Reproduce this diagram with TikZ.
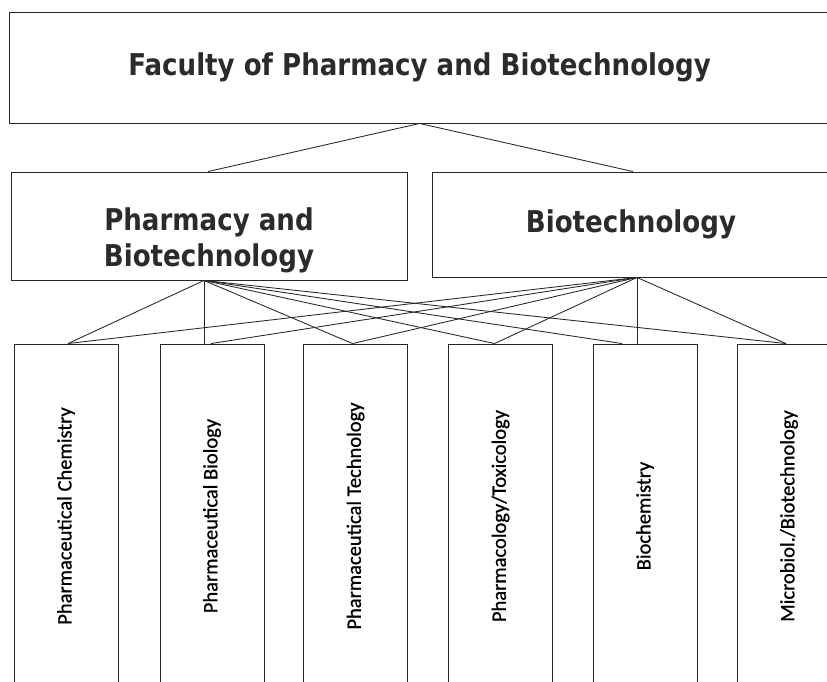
\documentclass[tikz,border=0pt]{standalone}
\usepackage{fontspec}
\newfontfamily\headfont[FakeStretch=0.87]{DejaVu Sans}
\newfontfamily\labfont[FakeBold=0.8]{Carlito}
\definecolor{headgray}{HTML}{2B2B2B}
\begin{document}
\begin{tikzpicture}[x=1pt,y=-1pt,
  box/.style={draw=black!85, line width=0.9pt, rectangle, inner sep=0pt},
  headtext/.style={font=\headfont\bfseries\fontsize{30}{36}\selectfont, text=headgray, align=center},
  leafbox/.style={box, minimum width=104pt, minimum height=344pt, font=\labfont\fontsize{20.5}{24}\selectfont},
  link/.style={draw=black!85, line width=0.85pt}]
\useasboundingbox (0,0) rectangle (827,682);
\clip (0,0) rectangle (827,682);
\fill[white] (0,0) rectangle (827,682);
% top
\node[box, headtext, minimum width=821pt, minimum height=111pt] (top) at (419.5,67.5) {Faculty of Pharmacy and Biotechnology};
% middle
\node[box, minimum width=396pt, minimum height=108pt] (lm) at (209,226) {};
\node[headtext, inner sep=0pt] (lmtext) at (209,240) {Pharmacy and\\Biotechnology};
\node[box, headtext, minimum width=398pt, minimum height=105pt] (rm) at (631,224.5) {Biotechnology};
% leaves
\node[leafbox] (b1) at (66,516) {\rotatebox{90}{Pharmaceutical Chemistry}};
\node[leafbox] (b2) at (212,516) {\rotatebox{90}{Pharmaceutical Biology}};
\node[leafbox] (b3) at (355.5,516) {\rotatebox{90}{Pharmaceutical Technology}};
\node[leafbox] (b4) at (500.5,516) {\rotatebox{90}{Pharmacology/Toxicology}};
\node[leafbox] (b5) at (645,516) {\rotatebox{90}{Biochemistry}};
\node[leafbox] (b6) at (789,516) {\rotatebox{90}{Microbiol./Biotechnology}};
% connectors top level
\draw[link] (top.south) -- ([xshift=-1pt]lm.north);
\draw[link] (top.south) -- ([xshift=2pt]rm.north);
% anchors
\coordinate (la) at ([xshift=-5pt]lm.south);
\coordinate (ra) at ([xshift=6pt]rm.south);
\draw[link] (la) -- ([xshift=2pt]b1.north);
\draw[link] (la) -- ([xshift=-8pt]b2.north);
\draw[link] (la) -- ([xshift=-3pt]b3.north);
\draw[link] (la) -- ([xshift=-6pt]b4.north);
\draw[link] (la) -- ([xshift=-23pt]b5.north);
\draw[link] (la) -- ([xshift=-3pt]b6.north);
\draw[link] (ra) -- ([xshift=2pt]b1.north);
\draw[link] (ra) -- ([xshift=-1pt]b2.north);
\draw[link] (ra) -- ([xshift=-3pt]b3.north);
\draw[link] (ra) -- ([xshift=-6pt]b4.north);
\draw[link] (ra) -- ([xshift=-8pt]b5.north);
\draw[link] (ra) -- ([xshift=-3pt]b6.north);
\end{tikzpicture}
\end{document}
